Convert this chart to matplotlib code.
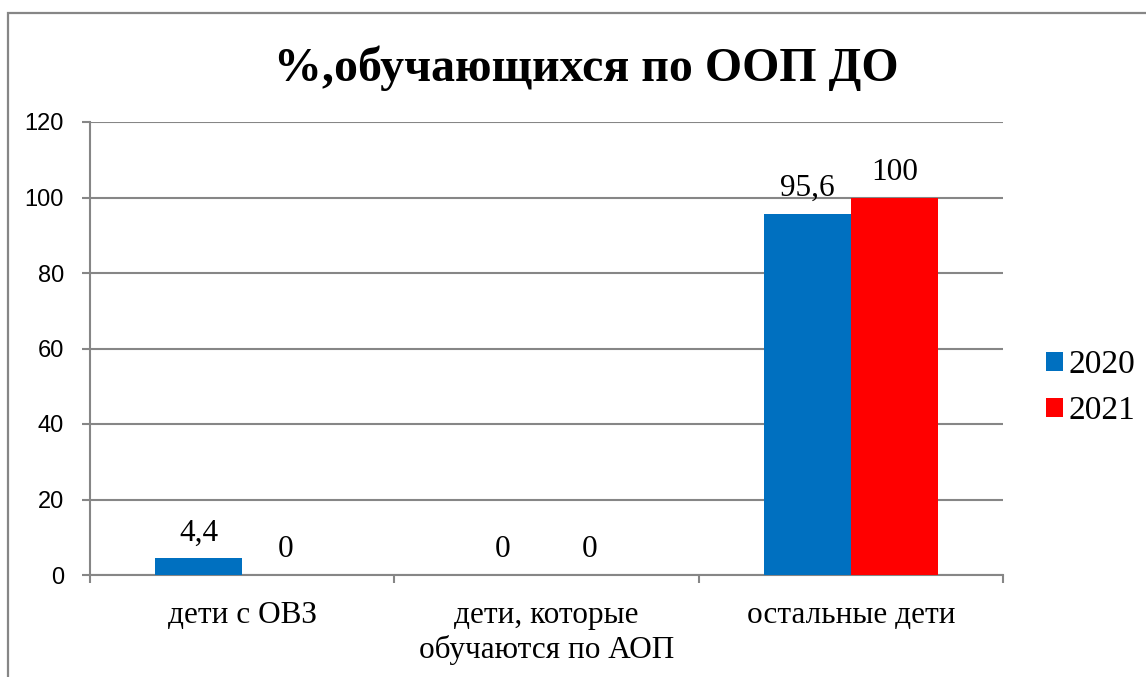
import matplotlib
matplotlib.use("Agg")
import matplotlib.pyplot as plt
from matplotlib.patches import Rectangle
from matplotlib.ticker import FixedLocator

categories = ["дети с ОВЗ", "дети, которые\nобучаются по АОП", "остальные дети"]
series_names = ["2020", "2021"]
values_2020 = [4.4, 0, 95.6]
values_2021 = [0, 0, 100]
y_ticks = [0, 20, 40, 60, 80, 100, 120]
title = "%,обучающихся по ООП ДО"

colors = ["#0070C0", "#FF0000"]
GRAY = "#868686"
SERIF = "Liberation Serif"
SANS = "Liberation Sans"

W, H = 1146, 677
DPI = 100
fig = plt.figure(figsize=(W / DPI, H / DPI), dpi=DPI)
fig.patch.set_facecolor("white")

# outer chart frame
frame = Rectangle((8 / W, -0.1), 1.2, 1 - 13 / H + 0.1, transform=fig.transFigure,
                  fill=False, edgecolor=GRAY, lw=1.6, zorder=0)
fig.patches.append(frame)

L, R, T, B = 90, 1003, 122, 575
ax = fig.add_axes([L / W, 1 - B / H, (R - L) / W, (B - T) / H])

bw = 0.286
xs = list(range(len(categories)))
for i, (vals, name) in enumerate(zip([values_2020, values_2021], series_names)):
    pos = [x + (i - 0.5) * bw for x in xs]
    ax.bar(pos, vals, width=bw, color=colors[i], label=name, zorder=3, linewidth=0)
    for p, v in zip(pos, vals):
        txt = (f"{v:g}").replace(".", ",")
        ax.annotate(txt, (p, v), xytext=(0, 18), textcoords="offset pixels",
                    ha="center", va="baseline", fontsize=22.5, family=SERIF, zorder=4)

ax.set_xlim(-0.5, len(categories) - 0.5)
ax.set_ylim(0, 120)
ax.set_yticks(y_ticks)
ax.yaxis.grid(True, color=GRAY, lw=1.5, zorder=0)
ax.set_axisbelow(True)

ax.set_xticks(xs)
ax.set_xticklabels(categories, family=SERIF, fontsize=22.5, va="top", linespacing=1.2)
ax.xaxis.set_minor_locator(FixedLocator([x - 0.5 for x in range(len(categories) + 1)]))
ax.tick_params(axis="x", which="major", length=0, pad=19)
ax.tick_params(axis="x", which="minor", length=5.8, width=1.5, color=GRAY, direction="out")
ax.tick_params(axis="y", length=5.8, width=1.5, color=GRAY, direction="out", pad=13,
               labelsize=17)
for lab in ax.get_yticklabels():
    lab.set_family(SANS)

for s in ["top", "right"]:
    ax.spines[s].set_visible(False)
for s in ["left", "bottom"]:
    ax.spines[s].set_color(GRAY)
    ax.spines[s].set_linewidth(1.5)

fig.text((275 + 897) / 2 / W, 1 - 68 / H, title, ha="center", va="center",
         fontsize=34.5, fontweight="bold", family=SERIF)

leg = fig.legend(loc="center left", bbox_to_anchor=(1046 / W, 1 - 388 / H),
                 frameon=False, prop={"family": SERIF, "size": 24},
                 handlelength=0.51, handleheight=0.51, handletextpad=0.18,
                 labelspacing=0.47, borderpad=0, borderaxespad=0)

fig.savefig("out.png", dpi=DPI, facecolor="white")
